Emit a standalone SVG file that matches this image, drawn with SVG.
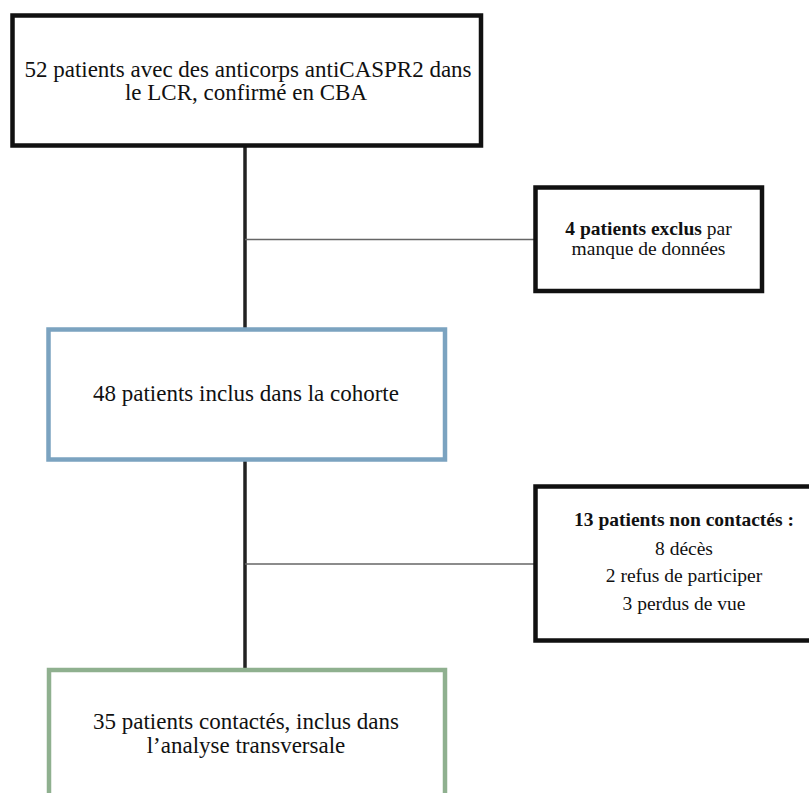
<svg xmlns="http://www.w3.org/2000/svg" width="809" height="793" viewBox="0 0 809 793">
<style>
text{font-family:"Liberation Serif","Times New Roman",serif;fill:#111;text-anchor:middle}
.big{font-size:23px}
.small{font-size:19.5px}
.b{font-weight:bold}
.box{fill:#fff;stroke-width:4.5}
.black{stroke:#111}
.blue{stroke:#7ba3c0}
.green{stroke:#8fb08f}
.trunk{stroke:#222;stroke-width:3.5;fill:none}
.branch{stroke:#666;stroke-width:1.3;fill:none}
</style>
<rect width="809" height="793" fill="#fff"/>
<g id="connectors">
<line class="trunk" x1="245" y1="146" x2="245" y2="330"/>
<line class="trunk" x1="245" y1="460" x2="245" y2="670"/>
<line class="branch" x1="245" y1="239.5" x2="535" y2="239.5"/>
<line class="branch" x1="245" y1="564" x2="535" y2="564"/>
</g>
<g id="n1">
<rect class="box black" x="12.5" y="15.5" width="468.5" height="130"/>
<text class="big" x="248" y="77">52 patients avec des anticorps antiCASPR2 dans</text>
<text class="big" x="246" y="100">le LCR, confirmé en CBA</text>
</g>
<g id="n2">
<rect class="box black" x="535.5" y="187.5" width="226.5" height="103.5"/>
<text class="small" x="648.5" y="235"><tspan class="b">4 patients exclus</tspan> par</text>
<text class="small" x="648.5" y="255">manque de données</text>
</g>
<g id="n3">
<rect class="box blue" x="48.5" y="329.5" width="396.5" height="130"/>
<text class="big" x="246" y="401">48 patients inclus dans la cohorte</text>
</g>
<g id="n4">
<rect class="box black" x="535.5" y="486.5" width="296" height="154"/>
<text class="small b" x="684" y="526">13 patients non contactés :</text>
<text class="small" x="684" y="555">8 décès</text>
<text class="small" x="684" y="582">2 refus de participer</text>
<text class="small" x="684" y="610">3 perdus de vue</text>
</g>
<g id="n5">
<rect class="box green" x="49" y="670" width="396" height="140"/>
<text class="big" x="246" y="729">35 patients contactés, inclus dans</text>
<text class="big" x="246" y="753">l’analyse transversale</text>
</g>
</svg>
